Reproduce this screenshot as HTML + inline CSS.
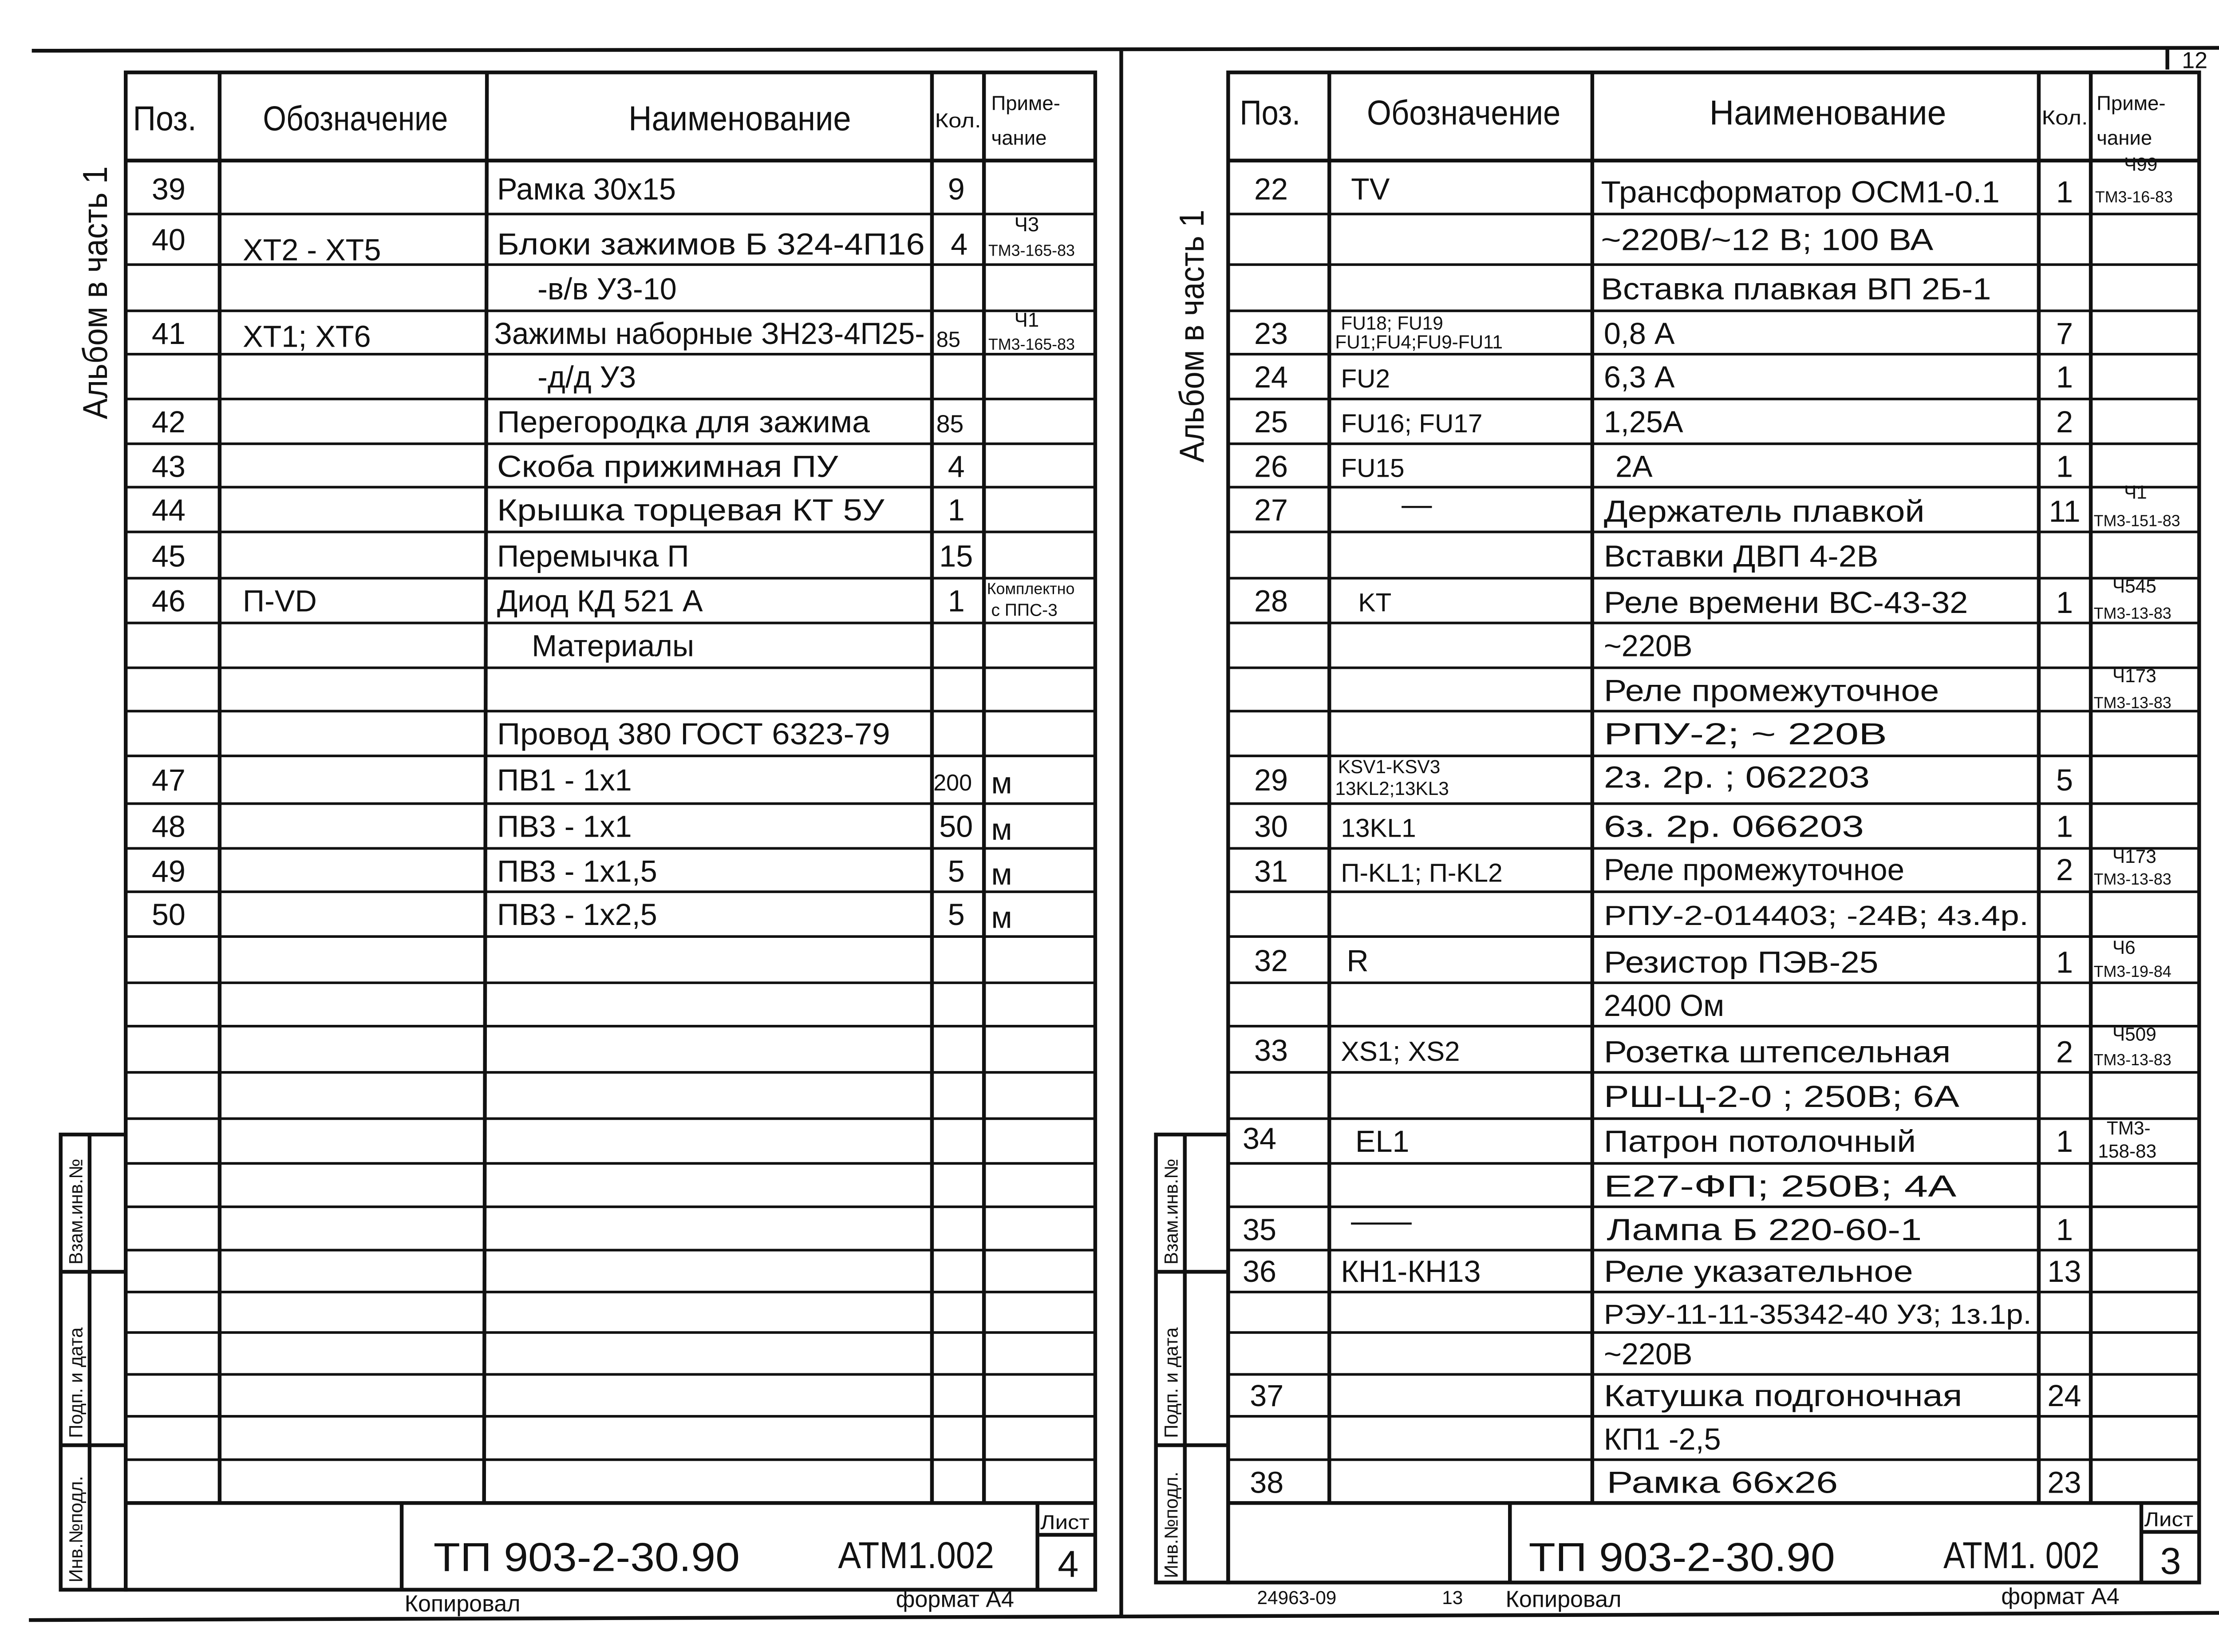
<!DOCTYPE html>
<html><head><meta charset="utf-8">
<style>
html,body{margin:0;padding:0;background:#fff;overflow:hidden;}
svg{display:block;}
text{font-family:"Liberation Sans","DejaVu Sans",sans-serif;fill:#111;}
.t{font-size:21px;}
.s{font-size:14px;}
.h{font-size:24px;}
</style></head><body>
<svg width="5079" height="3722" viewBox="0 0 1560 1143" xmlns="http://www.w3.org/2000/svg">
<rect width="1560" height="1143" fill="#fff"/>
<g stroke="#111" stroke-width="2.6" fill="none">
<line x1="22" y1="35" x2="1540" y2="33"/>
<line x1="776" y1="35" x2="776" y2="1118"/>
<line x1="20" y1="1121" x2="1545" y2="1116"/>
<line x1="1500" y1="33" x2="1500" y2="48"/>
<line x1="1538" y1="33" x2="1538" y2="50"/>
<rect x="87" y="50" width="671" height="1050"/>
<line x1="152" y1="50" x2="152" y2="1040"/>
<line x1="337" y1="50" x2="335" y2="1040"/>
<line x1="645" y1="50" x2="645" y2="1040"/>
<line x1="681" y1="50" x2="681" y2="1040"/>
<line x1="87" y1="111" x2="758" y2="111"/>
<line x1="87" y1="1040" x2="758" y2="1040"/>
<line x1="278" y1="1040" x2="278" y2="1100"/>
<line x1="718" y1="1040" x2="718" y2="1100"/>
<line x1="718" y1="1062" x2="758" y2="1062"/>
<rect x="42" y="785" width="45" height="315"/>
<line x1="62" y1="785" x2="62" y2="1100"/>
<line x1="42" y1="880" x2="87" y2="880"/>
<line x1="42" y1="1000" x2="87" y2="1000"/>
<rect x="850" y="50" width="672" height="1045"/>
<line x1="920" y1="50" x2="920" y2="1040"/>
<line x1="1102" y1="50" x2="1102" y2="1040"/>
<line x1="1411" y1="50" x2="1411" y2="1040"/>
<line x1="1447" y1="50" x2="1447" y2="1040"/>
<line x1="850" y1="111" x2="1522" y2="111"/>
<line x1="850" y1="1040" x2="1522" y2="1040"/>
<line x1="1045" y1="1040" x2="1045" y2="1095"/>
<line x1="1482" y1="1040" x2="1482" y2="1095"/>
<line x1="1482" y1="1060" x2="1522" y2="1060"/>
<rect x="800" y="785" width="50" height="310"/>
<line x1="820" y1="785" x2="820" y2="1095"/>
<line x1="800" y1="880" x2="850" y2="880"/>
<line x1="800" y1="1000" x2="850" y2="1000"/>
</g>
<g stroke="#111" stroke-width="1.8">
<line x1="87" y1="148" x2="758" y2="148"/><line x1="87" y1="183" x2="758" y2="183"/><line x1="87" y1="215" x2="758" y2="215"/><line x1="87" y1="245" x2="758" y2="245"/><line x1="87" y1="276" x2="758" y2="276"/><line x1="87" y1="307" x2="758" y2="307"/><line x1="87" y1="337" x2="758" y2="337"/><line x1="87" y1="368" x2="758" y2="368"/><line x1="87" y1="400" x2="758" y2="400"/><line x1="87" y1="431" x2="758" y2="431"/><line x1="87" y1="462" x2="758" y2="462"/><line x1="87" y1="492" x2="758" y2="492"/><line x1="87" y1="523" x2="758" y2="523"/><line x1="87" y1="556" x2="758" y2="556"/><line x1="87" y1="587" x2="758" y2="587"/><line x1="87" y1="617" x2="758" y2="617"/><line x1="87" y1="648" x2="758" y2="648"/><line x1="87" y1="680" x2="758" y2="680"/><line x1="87" y1="710" x2="758" y2="710"/><line x1="87" y1="742" x2="758" y2="742"/><line x1="87" y1="774" x2="758" y2="774"/><line x1="87" y1="805" x2="758" y2="805"/><line x1="87" y1="835" x2="758" y2="835"/><line x1="87" y1="865" x2="758" y2="865"/><line x1="87" y1="894" x2="758" y2="894"/><line x1="87" y1="922" x2="758" y2="922"/><line x1="87" y1="951" x2="758" y2="951"/><line x1="87" y1="980" x2="758" y2="980"/><line x1="87" y1="1010" x2="758" y2="1010"/>
<line x1="850" y1="148" x2="1522" y2="148"/><line x1="850" y1="183" x2="1522" y2="183"/><line x1="850" y1="215" x2="1522" y2="215"/><line x1="850" y1="245" x2="1522" y2="245"/><line x1="850" y1="276" x2="1522" y2="276"/><line x1="850" y1="307" x2="1522" y2="307"/><line x1="850" y1="337" x2="1522" y2="337"/><line x1="850" y1="368" x2="1522" y2="368"/><line x1="850" y1="400" x2="1522" y2="400"/><line x1="850" y1="431" x2="1522" y2="431"/><line x1="850" y1="462" x2="1522" y2="462"/><line x1="850" y1="492" x2="1522" y2="492"/><line x1="850" y1="523" x2="1522" y2="523"/><line x1="850" y1="556" x2="1522" y2="556"/><line x1="850" y1="587" x2="1522" y2="587"/><line x1="850" y1="617" x2="1522" y2="617"/><line x1="850" y1="648" x2="1522" y2="648"/><line x1="850" y1="680" x2="1522" y2="680"/><line x1="850" y1="710" x2="1522" y2="710"/><line x1="850" y1="742" x2="1522" y2="742"/><line x1="850" y1="774" x2="1522" y2="774"/><line x1="850" y1="805" x2="1522" y2="805"/><line x1="850" y1="835" x2="1522" y2="835"/><line x1="850" y1="865" x2="1522" y2="865"/><line x1="850" y1="894" x2="1522" y2="894"/><line x1="850" y1="922" x2="1522" y2="922"/><line x1="850" y1="951" x2="1522" y2="951"/><line x1="850" y1="980" x2="1522" y2="980"/><line x1="850" y1="1010" x2="1522" y2="1010"/>
</g>

<text class="h" x="92" y="90" textLength="44" lengthAdjust="spacingAndGlyphs">Поз.</text>
<text class="h" x="182" y="90" textLength="128" lengthAdjust="spacingAndGlyphs">Обозначение</text>
<text class="h" x="435" y="90" textLength="154" lengthAdjust="spacingAndGlyphs">Наименование</text>
<text class="s" x="647" y="88" textLength="32" lengthAdjust="spacingAndGlyphs">Кол.</text>
<text class="s" x="686" y="76">Приме-</text>
<text class="s" x="686" y="100">чание</text>
<g class="t">
<text x="105" y="138">39</text><text x="344" y="138">Рамка 30х15</text><text x="656" y="138">9</text>
<text x="105" y="173">40</text><text x="168" y="180">XT2 - XT5</text><text x="344" y="176" textLength="296" lengthAdjust="spacingAndGlyphs">Блоки зажимов Б 324-4П16</text><text x="658" y="176">4</text>
<text x="372" y="207">-в/в У3-10</text>
<text x="105" y="238">41</text><text x="168" y="240">XT1; XT6</text><text x="342" y="238" textLength="298" lengthAdjust="spacingAndGlyphs">Зажимы наборные ЗН23-4П25-</text><text x="648" y="240" font-size="15">85</text>
<text x="372" y="268">-д/д У3</text>
<text x="105" y="299">42</text><text x="344" y="299" textLength="258" lengthAdjust="spacingAndGlyphs">Перегородка для зажима</text><text x="648" y="299" font-size="17">85</text>
<text x="105" y="330">43</text><text x="344" y="330" textLength="236" lengthAdjust="spacingAndGlyphs">Скоба прижимная ПУ</text><text x="656" y="330">4</text>
<text x="105" y="360">44</text><text x="344" y="360" textLength="268" lengthAdjust="spacingAndGlyphs">Крышка торцевая КТ 5У</text><text x="656" y="360">1</text>
<text x="105" y="392">45</text><text x="344" y="392">Перемычка П</text><text x="650" y="392">15</text>
<text x="105" y="423">46</text><text x="168" y="423">П-VD</text><text x="344" y="423">Диод КД 521 А</text><text x="656" y="423">1</text>
<text x="368" y="454">Материалы</text>
<text x="344" y="515" textLength="272" lengthAdjust="spacingAndGlyphs">Провод 380 ГОСТ 6323-79</text>
<text x="105" y="547">47</text><text x="344" y="547">ПВ1 - 1х1</text><text x="646" y="547" font-size="16">200</text><text x="686" y="549">м</text>
<text x="105" y="579">48</text><text x="344" y="579">ПВ3 - 1х1</text><text x="650" y="579">50</text><text x="686" y="581">м</text>
<text x="105" y="610">49</text><text x="344" y="610">ПВ3 - 1х1,5</text><text x="656" y="610">5</text><text x="686" y="612">м</text>
<text x="105" y="640">50</text><text x="344" y="640">ПВ3 - 1х2,5</text><text x="656" y="640">5</text><text x="686" y="642">м</text>
</g>
<g class="s">
<text x="702" y="160">Ч3</text><text x="684" y="177" font-size="11">ТМ3-165-83</text>
<text x="702" y="226">Ч1</text><text x="684" y="242" font-size="11">ТМ3-165-83</text>
<text x="683" y="411" font-size="11">Комплектно</text><text x="686" y="426" font-size="12">с ППС-3</text>
</g>
<text x="300" y="1087" font-size="28" textLength="212" lengthAdjust="spacingAndGlyphs">ТП 903-2-30.90</text>
<text x="580" y="1085" font-size="26" textLength="108" lengthAdjust="spacingAndGlyphs">АТМ1.002</text>
<text x="720" y="1058" font-size="14" textLength="34" lengthAdjust="spacingAndGlyphs">Лист</text>
<text x="732" y="1091" font-size="26">4</text>
<text x="280" y="1115" font-size="16">Копировал</text>
<text x="620" y="1112" font-size="16">формат А4</text>
<text x="74" y="290" font-size="24" transform="rotate(-90 74 290)" textLength="175" lengthAdjust="spacingAndGlyphs">Альбом в часть 1</text>
<g font-size="13">
<text x="57" y="875" transform="rotate(-90 57 875)">Взам.инв.№</text>
<text x="57" y="995" transform="rotate(-90 57 995)">Подп. и дата</text>
<text x="57" y="1095" transform="rotate(-90 57 1095)">Инв.№подл.</text>
<text x="815" y="875" transform="rotate(-90 815 875)">Взам.инв.№</text>
<text x="815" y="995" transform="rotate(-90 815 995)">Подп. и дата</text>
<text x="815" y="1092" transform="rotate(-90 815 1092)">Инв.№подл.</text>
</g>

<text class="h" x="858" y="86" textLength="42" lengthAdjust="spacingAndGlyphs">Поз.</text>
<text class="h" x="946" y="86" textLength="134" lengthAdjust="spacingAndGlyphs">Обозначение</text>
<text class="h" x="1183" y="86" textLength="164" lengthAdjust="spacingAndGlyphs">Наименование</text>
<text class="s" x="1413" y="86" textLength="32" lengthAdjust="spacingAndGlyphs">Кол.</text>
<text class="s" x="1451" y="76">Приме-</text>
<text class="s" x="1451" y="100">чание</text>
<text x="1510" y="47" font-size="16">12</text>
<g class="t">
<text x="868" y="138">22</text><text x="935" y="138">TV</text><text x="1108" y="140" textLength="276" lengthAdjust="spacingAndGlyphs">Трансформатор ОСМ1-0.1</text><text x="1423" y="140">1</text>
<text x="1108" y="173" textLength="230" lengthAdjust="spacingAndGlyphs">~220В/~12 В; 100 ВА</text>
<text x="1108" y="207" textLength="270" lengthAdjust="spacingAndGlyphs">Вставка плавкая ВП 2Б-1</text>
<text x="868" y="238">23</text><text x="1110" y="238">0,8 А</text><text x="1423" y="238">7</text>
<text x="868" y="268">24</text><text x="928" y="268" font-size="18">FU2</text><text x="1110" y="268">6,3 А</text><text x="1423" y="268">1</text>
<text x="868" y="299">25</text><text x="928" y="299" font-size="18">FU16; FU17</text><text x="1110" y="299">1,25А</text><text x="1423" y="299">2</text>
<text x="868" y="330">26</text><text x="928" y="330" font-size="18">FU15</text><text x="1118" y="330">2А</text><text x="1423" y="330">1</text>
<text x="868" y="360">27</text><text x="970" y="356">—</text><text x="1110" y="361" textLength="222" lengthAdjust="spacingAndGlyphs">Держатель плавкой</text><text x="1418" y="361">11</text>
<text x="1110" y="392" textLength="190" lengthAdjust="spacingAndGlyphs">Вставки ДВП 4-2В</text>
<text x="868" y="423">28</text><text x="940" y="423" font-size="18">KT</text><text x="1110" y="424" textLength="252" lengthAdjust="spacingAndGlyphs">Реле времени ВС-43-32</text><text x="1423" y="424">1</text>
<text x="1110" y="454">~220В</text>
<text x="1110" y="485" textLength="232" lengthAdjust="spacingAndGlyphs">Реле промежуточное</text>
<text x="1110" y="515" textLength="196" lengthAdjust="spacingAndGlyphs">РПУ-2; ~ 220В</text>
<text x="868" y="547">29</text><text x="1110" y="545" textLength="184" lengthAdjust="spacingAndGlyphs">2з. 2р. ; 062203</text><text x="1423" y="547">5</text>
<text x="868" y="579">30</text><text x="928" y="579" font-size="18">13KL1</text><text x="1110" y="579" textLength="180" lengthAdjust="spacingAndGlyphs">6з. 2р. 066203</text><text x="1423" y="579">1</text>
<text x="868" y="610">31</text><text x="928" y="610" font-size="18">П-KL1; П-KL2</text><text x="1110" y="609" textLength="208" lengthAdjust="spacingAndGlyphs">Реле промежуточное</text><text x="1423" y="609">2</text>
<text x="1110" y="640" font-size="19" textLength="294" lengthAdjust="spacingAndGlyphs">РПУ-2-014403; -24В; 4з.4р.</text>
<text x="868" y="672">32</text><text x="932" y="672">R</text><text x="1110" y="673" textLength="190" lengthAdjust="spacingAndGlyphs">Резистор ПЭВ-25</text><text x="1423" y="673">1</text>
<text x="1110" y="703">2400 Ом</text>
<text x="868" y="734">33</text><text x="928" y="734" font-size="19">XS1; XS2</text><text x="1110" y="735" textLength="240" lengthAdjust="spacingAndGlyphs">Розетка штепсельная</text><text x="1423" y="735">2</text>
<text x="1110" y="766" textLength="246" lengthAdjust="spacingAndGlyphs">РШ-Ц-2-0 ; 250В; 6А</text>
<text x="860" y="795">34</text><text x="938" y="797">EL1</text><text x="1110" y="797" textLength="216" lengthAdjust="spacingAndGlyphs">Патрон потолочный</text><text x="1423" y="797">1</text>
<text x="1110" y="828" textLength="244" lengthAdjust="spacingAndGlyphs">Е27-ФП; 250В; 4А</text>
<text x="860" y="858">35</text><text x="935" y="852">——</text><text x="1112" y="858" textLength="218" lengthAdjust="spacingAndGlyphs">Лампа Б 220-60-1</text><text x="1423" y="858">1</text>
<text x="860" y="887">36</text><text x="928" y="887">КН1-КН13</text><text x="1110" y="887" textLength="214" lengthAdjust="spacingAndGlyphs">Реле указательное</text><text x="1417" y="887">13</text>
<text x="1110" y="916" font-size="19" textLength="296" lengthAdjust="spacingAndGlyphs">РЭУ-11-11-35342-40 У3; 1з.1р.</text>
<text x="1110" y="944">~220В</text>
<text x="865" y="973">37</text><text x="1110" y="973" textLength="248" lengthAdjust="spacingAndGlyphs">Катушка подгоночная</text><text x="1417" y="973">24</text>
<text x="1110" y="1003">КП1 -2,5</text>
<text x="865" y="1033">38</text><text x="1112" y="1033" textLength="160" lengthAdjust="spacingAndGlyphs">Рамка 66х26</text><text x="1417" y="1033">23</text>
</g>
<g font-size="13">
<text x="928" y="228">FU18; FU19</text><text x="924" y="241">FU1;FU4;FU9-FU11</text>
<text x="926" y="535">KSV1-KSV3</text><text x="924" y="550">13KL2;13KL3</text>
<text x="1470" y="118">Ч99</text><text x="1450" y="140" font-size="11">ТМ3-16-83</text>
<text x="1470" y="345">Ч1</text><text x="1449" y="364" font-size="11">ТМ3-151-83</text>
<text x="1462" y="410">Ч545</text><text x="1449" y="428" font-size="11">ТМ3-13-83</text>
<text x="1462" y="472">Ч173</text><text x="1449" y="490" font-size="11">ТМ3-13-83</text>
<text x="1462" y="597">Ч173</text><text x="1449" y="612" font-size="11">ТМ3-13-83</text>
<text x="1462" y="660">Ч6</text><text x="1449" y="676" font-size="11">ТМ3-19-84</text>
<text x="1462" y="720">Ч509</text><text x="1449" y="737" font-size="11">ТМ3-13-83</text>
<text x="1458" y="785">ТМ3-</text><text x="1452" y="801">158-83</text>
</g>
<text x="1058" y="1087" font-size="28" textLength="212" lengthAdjust="spacingAndGlyphs">ТП 903-2-30.90</text>
<text x="1345" y="1085" font-size="26" textLength="108" lengthAdjust="spacingAndGlyphs">АТМ1. 002</text>
<text x="1484" y="1056" font-size="14" textLength="34" lengthAdjust="spacingAndGlyphs">Лист</text>
<text x="1495" y="1089" font-size="26">3</text>
<text x="870" y="1110" font-size="13">24963-09</text>
<text x="998" y="1110" font-size="13">13</text>
<text x="1042" y="1112" font-size="16">Копировал</text>
<text x="1385" y="1110" font-size="16">формат А4</text>
<text x="833" y="320" font-size="24" transform="rotate(-90 833 320)" textLength="175" lengthAdjust="spacingAndGlyphs">Альбом в часть 1</text>
</svg>
</body></html>
